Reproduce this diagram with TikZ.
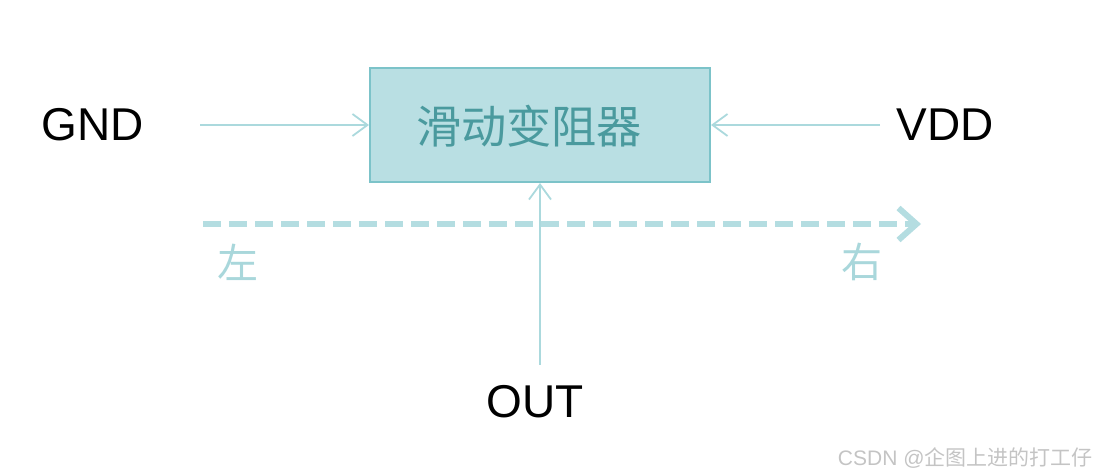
\documentclass[tikz,border=0pt]{standalone}
\usepackage{fontspec}
\setmainfont{Liberation Sans}
\newfontfamily\cjk{Noto Sans CJK SC}
\usetikzlibrary{arrows.meta}
\definecolor{boxfill}{HTML}{B9DFE3}
\definecolor{boxline}{HTML}{7CC3C9}
\definecolor{boxtext}{HTML}{4A9A9E}
\definecolor{arrowc}{HTML}{ABD9DD}
\definecolor{dashc}{HTML}{B4DDE1}
\definecolor{lrtext}{HTML}{A9D7DB}
\definecolor{wm}{HTML}{C4C4C4}
\tikzset{
  mainbox/.style={draw=boxline, fill=boxfill, line width=1pt, minimum width=170pt, minimum height=57pt, inner sep=0pt},
  pin/.style={draw=arrowc, line width=0.9pt, -{Straight Barb[length=7.5pt,width=11pt,line width=0.9pt]}},
  lbl/.style={font=\fontsize{23pt}{26pt}\selectfont, text=black, inner sep=0pt},
  side/.style={font=\cjk\fontsize{20.5pt}{23pt}\selectfont, text=lrtext, inner sep=0pt},
}
\begin{document}
\begin{tikzpicture}[x=0.5pt,y=-0.5pt]
\useasboundingbox (0,0) rectangle (1098,475);
\node[mainbox] (box) at (540,125) {};
\node[font=\cjk\fontsize{22.6pt}{25pt}\selectfont, text=boxtext, inner sep=0pt] (name) at (529,126) {滑动变阻器};
\node[lbl] (gnd) at (93,125) {GND};
\node[lbl] (vdd) at (945,125) {VDD};
\node[lbl] (out) at (535,402) {OUT};
\coordinate (gs) at (200,125);
\coordinate (vs) at (880,125);
\coordinate (os) at (540,365);
\draw[pin] (gs) -- (box.west);
\draw[pin] (vs) -- (box.east);
\draw[pin] (os) -- (box.south -| os);
\coordinate (ds) at (203,224);
\coordinate (de) at (921,224);
\draw[draw=dashc, line width=3pt, dash pattern=on 9pt off 4pt, -{Straight Barb[length=9pt,width=16pt,line width=3pt]}] (ds) -- (de);
\node[side] (left) at (238,262) {左};
\node[side] (right) at (862,262) {右};
\node[font=\fontsize{10.5pt}{12pt}\selectfont, text=wm, anchor=east, inner sep=0pt] (wmk) at (1093,458) {CSDN @{\cjk 企图上进的打工仔}};
\end{tikzpicture}
\end{document}
